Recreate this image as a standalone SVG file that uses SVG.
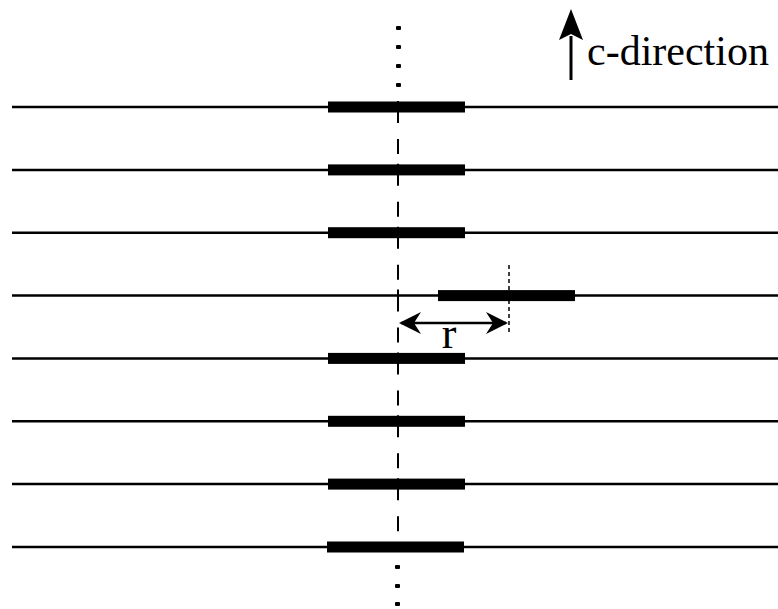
<svg xmlns="http://www.w3.org/2000/svg" width="778" height="609" viewBox="0 0 778 609">
  <style>
    .plane { stroke: #000; stroke-width: 2.5; fill: none; }
    .bar { fill: #000; }
    .axis { stroke: #000; stroke-width: 2; stroke-dasharray: 22 16 15 9.86; fill: none; }
    .dot { fill: #000; }
    .guide { stroke: #000; stroke-width: 1.5; stroke-dasharray: 4 3; fill: none; }
    .label { font-family: "Liberation Serif", "Times New Roman", serif; fill: #000; }
  </style>
  <defs>
    <marker id="head" viewBox="0 0 22 22" refX="20" refY="11" markerWidth="22" markerHeight="22" markerUnits="userSpaceOnUse" orient="auto-start-reverse">
      <path d="M0,0 L22,11 L0,22 L7,11 Z" fill="#000"/>
    </marker>
  </defs>

  <rect width="778" height="609" fill="#fff"/>

  <!-- layer planes -->
  <g id="planes">
    <line class="plane" x1="12" y1="107" x2="778" y2="107"/>
    <line class="plane" x1="12" y1="169.9" x2="778" y2="169.9"/>
    <line class="plane" x1="12" y1="232.7" x2="778" y2="232.7"/>
    <line class="plane" x1="12" y1="295.6" x2="778" y2="295.6"/>
    <line class="plane" x1="12" y1="358.4" x2="778" y2="358.4"/>
    <line class="plane" x1="12" y1="421.3" x2="778" y2="421.3"/>
    <line class="plane" x1="12" y1="484.1" x2="778" y2="484.1"/>
    <line class="plane" x1="12" y1="547" x2="778" y2="547"/>
  </g>

  <!-- connectors: stacking axis, offset guide and r arrow -->
  <g id="connectors">
    <line class="axis" x1="398" y1="101" x2="398" y2="540"/>
    <line class="guide" x1="509" y1="265" x2="509" y2="332"/>
    <line x1="401" y1="323" x2="506" y2="323" stroke="#000" stroke-width="2.5" marker-start="url(#head)" marker-end="url(#head)"/>
  </g>

  <!-- continuation dots -->
  <g id="dots-top">
    <rect class="dot" x="396" y="26" width="5" height="4" rx="1"/>
    <rect class="dot" x="396" y="45" width="5" height="4" rx="1"/>
    <rect class="dot" x="396" y="64" width="5" height="4" rx="1"/>
    <rect class="dot" x="396" y="83" width="5" height="4" rx="1"/>
  </g>
  <g id="dots-bottom">
    <rect class="dot" x="395" y="565" width="5" height="4" rx="1"/>
    <rect class="dot" x="395" y="584" width="5" height="4" rx="1"/>
    <rect class="dot" x="395" y="602" width="5" height="4" rx="1"/>
  </g>

  <!-- stacked segments -->
  <g id="seg1"><rect class="bar" x="328" y="101.5" width="137" height="11"/></g>
  <g id="seg2"><rect class="bar" x="328" y="164.4" width="137" height="11"/></g>
  <g id="seg3"><rect class="bar" x="328" y="227.2" width="137" height="11"/></g>
  <g id="seg4-shifted"><rect class="bar" x="438" y="290.1" width="137" height="11"/></g>
  <g id="seg5"><rect class="bar" x="328" y="352.9" width="137" height="11"/></g>
  <g id="seg6"><rect class="bar" x="328" y="415.8" width="137" height="11"/></g>
  <g id="seg7"><rect class="bar" x="328" y="478.6" width="137" height="11"/></g>
  <g id="seg8"><rect class="bar" x="327" y="541.5" width="137" height="11"/></g>

  <!-- offset label -->
  <g id="label-r">
    <text class="label" x="449" y="348" font-size="44" text-anchor="middle">r</text>
  </g>

  <!-- c-direction indicator -->
  <g id="c-direction">
    <line x1="571" y1="36" x2="571" y2="80" stroke="#000" stroke-width="3"/>
    <path d="M571,9 L583,40 L571,34 L559,40 Z" fill="#000"/>
    <text class="label" x="587" y="65" font-size="42">c-direction</text>
  </g>
</svg>
